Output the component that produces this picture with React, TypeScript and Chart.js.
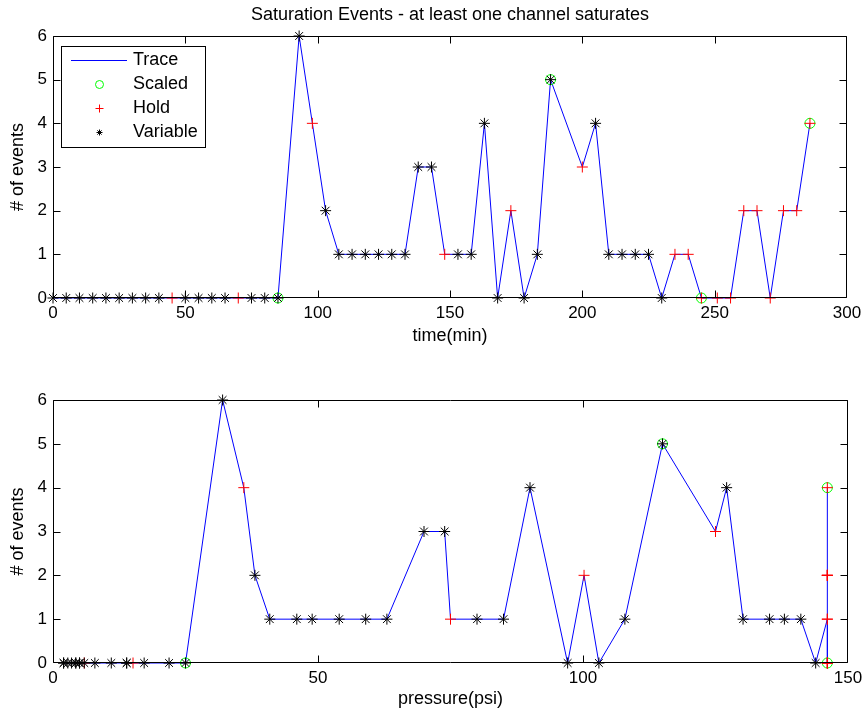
import React, { useEffect, useRef } from 'react';
import { Chart, registerables } from 'chart.js';

Chart.register(...registerables);

const FONT_FAMILY = '"Liberation Sans", Arial, Helvetica, sans-serif';
const FS_TICK = 17;
const FS_TEXT = 18;

const timeMin = [
  0, 5, 10, 15, 20, 25, 30, 35, 40, 45, 50, 55, 60, 65, 70, 75, 80, 85,
  93, 98, 103, 108, 113, 118, 123, 128, 133, 138, 143, 148, 153, 158, 163, 168, 173, 178, 183, 188,
  200, 205, 210, 215, 220, 225, 230, 235, 240, 245,
  251, 256, 261, 266, 271, 276, 281, 286,
];
const pressurePsi = [
  2.0, 2.0, 2.8, 3.5, 4.3, 4.3, 5.0, 5.0, 5.9, 5.9, 7.9, 11.0, 13.9, 13.9, 15.1, 17.2, 21.9, 25.0,
  32.0, 36.0, 38.1, 40.9, 46.0, 48.9, 54.0, 59.0, 63.0, 70.0, 73.9, 75.0, 80.0, 85.0, 90.0, 97.1,
  100.2, 103.0, 107.9, 115.0, 125.0, 127.1, 130.2, 135.2, 138.0, 141.1, 143.9,
  146.1, 146.1, 146.1, 146.1, 146.1, 146.1, 146.1, 146.1, 146.1, 146.1, 146.1,
];
const eventCount = [
  0, 0, 0, 0, 0, 0, 0, 0, 0, 0, 0, 0, 0, 0, 0, 0, 0, 0,
  6, 4, 2, 1, 1, 1, 1, 1, 1, 3, 3, 1, 1, 1, 4, 0, 2, 0, 1, 5,
  3, 4, 1, 1, 1, 1, 0, 1, 1, 0,
  0, 0, 2, 2, 0, 2, 2, 4,
];
const holdIndices = [9, 14, 19, 29, 34, 38, 45, 46, 47, 48, 49, 50, 51, 52, 53, 54, 55];
const scaledIndices = [17, 37, 47, 55];

const timeTicks = [0, 50, 100, 150, 200, 250, 300];
const pressureTicks = [0, 50, 100, 150];
const eventTicks = [0, 1, 2, 3, 4, 5, 6];

const legendLabels = ['Trace', 'Scaled', 'Hold', 'Variable'];

const framePlugin = {
  id: 'frame',
  afterDatasetsDraw(chart: any, _args: any, opts: any) {
    const { ctx, chartArea: a, scales } = chart;
    ctx.save();
    ctx.strokeStyle = '#000';
    ctx.lineWidth = 1;
    const L = Math.round(a.left) + 0.5;
    const R = Math.round(a.right) - 0.5;
    const T = Math.round(a.top) + 0.5;
    const B = Math.round(a.bottom) - 0.5;
    ctx.beginPath();
    ctx.rect(L, T, R - L, B - T);
    ctx.stroke();
    const tl = 7;
    ctx.beginPath();
    for (const t of scales.x.ticks) {
      let px = Math.round(scales.x.getPixelForValue(t.value)) + 0.5;
      px = Math.min(Math.max(px, L), R);
      ctx.moveTo(px, B);
      ctx.lineTo(px, B - tl);
      ctx.moveTo(px, T);
      ctx.lineTo(px, T + tl);
    }
    for (const t of scales.y.ticks) {
      let py = Math.round(scales.y.getPixelForValue(t.value)) + 0.5;
      py = Math.min(Math.max(py, T), B);
      ctx.moveTo(L, py);
      ctx.lineTo(L + tl, py);
      ctx.moveTo(R, py);
      ctx.lineTo(R - tl, py);
    }
    ctx.stroke();

    if (opts && opts.legend) {
      ctx.fillStyle = '#fff';
      ctx.fillRect(61.5, 46.5, 144, 101);
      ctx.strokeStyle = '#000';
      ctx.strokeRect(61.5, 46.5, 144, 101);
      const ys = [60.5, 84.5, 108.5, 132.5];
      const mx = 99.5;
      ctx.strokeStyle = '#0000ff';
      ctx.beginPath();
      ctx.moveTo(71, ys[0]);
      ctx.lineTo(127, ys[0]);
      ctx.stroke();
      ctx.strokeStyle = '#00ff00';
      ctx.beginPath();
      ctx.arc(mx, ys[1], 4, 0, Math.PI * 2);
      ctx.stroke();
      ctx.strokeStyle = '#ff0000';
      ctx.beginPath();
      ctx.moveTo(mx - 4, ys[2]);
      ctx.lineTo(mx + 4, ys[2]);
      ctx.moveTo(mx, ys[2] - 4);
      ctx.lineTo(mx, ys[2] + 4);
      ctx.stroke();
      ctx.strokeStyle = '#000';
      ctx.beginPath();
      const r = 3;
      const d = r * 0.707;
      ctx.moveTo(mx - r, ys[3]);
      ctx.lineTo(mx + r, ys[3]);
      ctx.moveTo(mx, ys[3] - r);
      ctx.lineTo(mx, ys[3] + r);
      ctx.moveTo(mx - d, ys[3] - d);
      ctx.lineTo(mx + d, ys[3] + d);
      ctx.moveTo(mx - d, ys[3] + d);
      ctx.lineTo(mx + d, ys[3] - d);
      ctx.stroke();
      ctx.fillStyle = '#000';
      ctx.font = `${FS_TEXT}px ${FONT_FAMILY}`;
      ctx.textBaseline = 'middle';
      ctx.textAlign = 'left';
      legendLabels.forEach((lab, i) => ctx.fillText(lab, 133, ys[i]));
    }
    ctx.restore();
  },
};

function buildDatasets(xs: number[]) {
  const all = xs.map((x, i) => ({ x, y: eventCount[i] }));
  const scaled = scaledIndices.map((i) => all[i]);
  const hold = holdIndices.map((i) => all[i]);
  const variable = all.filter((_p, i) => holdIndices.indexOf(i) < 0);
  return [
    {
      label: 'Trace',
      data: all,
      showLine: true,
      borderColor: '#0000ff',
      borderWidth: 1,
      pointRadius: 0,
      fill: false,
      tension: 0,
      order: 4,
      clip: false as any,
    },
    {
      label: 'Scaled',
      data: scaled,
      pointStyle: 'circle',
      pointRadius: 5,
      borderColor: '#00ff00',
      backgroundColor: 'rgba(0,0,0,0)',
      pointBorderWidth: 1,
      order: 3,
      clip: false as any,
    },
    {
      label: 'Hold',
      data: hold,
      pointStyle: 'cross',
      pointRadius: 5.5,
      borderColor: '#ff0000',
      backgroundColor: '#ff0000',
      pointBorderWidth: 1,
      order: 2,
      clip: false as any,
    },
    {
      label: 'Variable',
      data: variable,
      pointStyle: 'star',
      pointRadius: 5.5,
      borderColor: '#000000',
      backgroundColor: '#000000',
      pointBorderWidth: 1,
      order: 1,
      clip: false as any,
    },
  ];
}

function makeConfig(opts: {
  xs: number[];
  xTicks: number[];
  xMax: number;
  xTitle: string;
  height: number;
  plotBottom: number;
  padTop: number;
  padRight: number;
  xTitlePadBottom: number;
  title?: string;
  legend: boolean;
}) {
  const tickFont = { family: FONT_FAMILY, size: FS_TICK };
  const textFont = { family: FONT_FAMILY, size: FS_TEXT };
  return {
    type: 'scatter' as const,
    data: { datasets: buildDatasets(opts.xs) },
    plugins: [framePlugin],
    options: {
      responsive: false,
      animation: false as const,
      events: [],
      layout: { padding: { left: 0, right: opts.padRight, top: opts.padTop, bottom: 0 } },
      plugins: {
        legend: { display: false },
        tooltip: { enabled: false },
        title: {
          display: !!opts.title,
          text: opts.title || '',
          color: '#000',
          font: { family: FONT_FAMILY, size: FS_TEXT, weight: 'normal' as const },
          padding: { top: 4, bottom: 10.4 },
          fullSize: false,
        },
        frame: { legend: opts.legend },
      },
      scales: {
        x: {
          type: 'linear' as const,
          min: 0,
          max: opts.xMax,
          afterBuildTicks: (s: any) => {
            s.ticks = opts.xTicks.map((v) => ({ value: v }));
          },
          afterFit: (s: any) => {
            s.height = opts.height - opts.plotBottom;
          },
          grid: { display: false, drawTicks: false },
          border: { display: false },
          ticks: { color: '#000', font: tickFont, padding: 5, maxRotation: 0, autoSkip: false },
          title: {
            display: true,
            text: opts.xTitle,
            color: '#000',
            font: textFont,
            padding: { top: 0, bottom: opts.xTitlePadBottom },
          },
        },
        y: {
          type: 'linear' as const,
          min: 0,
          max: 6,
          afterBuildTicks: (s: any) => {
            s.ticks = eventTicks.map((v) => ({ value: v }));
          },
          afterFit: (s: any) => {
            s.width = 53;
          },
          grid: { display: false, drawTicks: false },
          border: { display: false },
          ticks: { color: '#000', font: tickFont, padding: 6, autoSkip: false },
          title: {
            display: true,
            text: '# of events',
            color: '#000',
            font: textFont,
            padding: { top: 7, bottom: 0 },
          },
        },
      },
    },
  };
}

export default function App() {
  const topRef = useRef<HTMLCanvasElement>(null);
  const botRef = useRef<HTMLCanvasElement>(null);

  useEffect(() => {
    const c1 = new Chart(
      topRef.current as HTMLCanvasElement,
      makeConfig({
        xs: timeMin,
        xTicks: timeTicks,
        xMax: 300,
        xTitle: 'time(min)',
        height: 357,
        plotBottom: 298,
        padTop: 0,
        padRight: 21,
        xTitlePadBottom: 10,
        title: 'Saturation Events - at least one channel saturates',
        legend: true,
      }) as any
    );
    const c2 = new Chart(
      botRef.current as HTMLCanvasElement,
      makeConfig({
        xs: pressurePsi,
        xTicks: pressureTicks,
        xMax: 150,
        xTitle: 'pressure(psi)',
        height: 358,
        plotBottom: 306,
        padTop: 43,
        padRight: 20,
        xTitlePadBottom: 5,
        legend: false,
      }) as any
    );
    return () => {
      c1.destroy();
      c2.destroy();
    };
  }, []);

  return (
    <div
      style={{
        position: 'absolute',
        left: 0,
        top: 0,
        width: 868,
        height: 715,
        background: '#fff',
        overflow: 'hidden',
      }}
    >
      <canvas
        ref={topRef}
        width={868}
        height={357}
        style={{ position: 'absolute', left: 0, top: 0, width: 868, height: 357 }}
      />
      <canvas
        ref={botRef}
        width={868}
        height={358}
        style={{ position: 'absolute', left: 0, top: 357, width: 868, height: 358 }}
      />
    </div>
  );
}
